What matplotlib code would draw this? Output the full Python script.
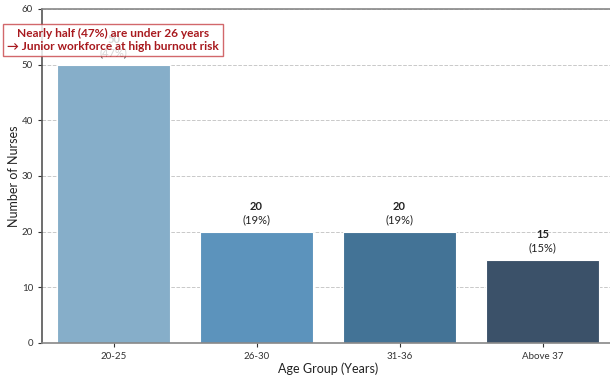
import matplotlib
matplotlib.use("Agg")
import matplotlib.pyplot as plt

categories = ["20-25", "26-30", "31-36", "Above 37"]
counts = [50, 20, 20, 15]
pct_labels = ["47%", "19%", "19%", "15%"]
colors = ["#86AEC9", "#5C93BC", "#437396", "#3B5169"]

plt.rcParams['font.family'] = ['Lato', 'DejaVu Sans']

fig = plt.figure(figsize=(6.1, 3.75), dpi=100)
ax = fig.add_axes([42/610, 32/375, 572/610, 334/375])

x = list(range(len(categories)))
ax.bar(x, counts, width=0.79, color=colors, edgecolor="white", linewidth=0.8, zorder=2)

for xi, c, p in zip(x, counts, pct_labels):
    ax.text(xi, c + 1.1, f"({p})", ha="center", va="bottom", fontsize=8, color="#222222", zorder=3)
    ax.text(xi, c + 3.5, f"{c}", ha="center", va="bottom", fontsize=8, fontweight="bold", color="#222222", zorder=3)

ax.set_xlim(-0.5, 3.5)
ax.set_ylim(0, 60)
ax.set_yticks(range(0, 61, 10))
ax.set_xticks(x)
ax.set_xticklabels(categories)
ax.tick_params(axis="both", labelsize=7, colors="#333333", length=3, width=0.8)
ax.yaxis.grid(True, linestyle="--", color="#bbbbbb", linewidth=0.7, alpha=0.8, zorder=0)
ax.set_axisbelow(True)
for s in ax.spines.values():
    s.set_color("#888888")
    s.set_linewidth(1.2)
ax.spines["left"].set_color("#555555")

ax.set_ylabel("Number of Nurses", fontsize=9, color="#222222")
ax.yaxis.set_label_coords(-0.038, 0.5)
ax.set_xlabel("Age Group (Years)", fontsize=9, color="#222222", labelpad=1)

ax.text(-0.005, 54.5, "Nearly half (47%) are under 26 years\n\u2192 Junior workforce at high burnout risk",
        ha="center", va="center", fontsize=8.6, fontweight="bold", color="#A8191E",
        linespacing=1.2, zorder=5,
        bbox=dict(boxstyle="square,pad=0.35", facecolor="white", edgecolor="#C8474B", linewidth=1.0, alpha=0.82))

fig.savefig("out.png", dpi=100)
